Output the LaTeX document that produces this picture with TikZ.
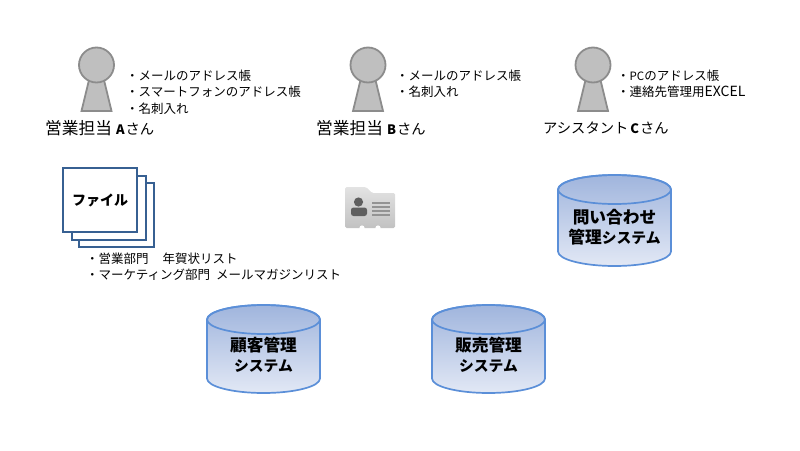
\documentclass[tikz,border=0pt]{standalone}
\usepackage{fontspec}
\setmainfont{Noto Sans CJK JP}
\definecolor{dbblue}{HTML}{5B8FD8}
\definecolor{dbtop}{HTML}{A0B5DD}
\definecolor{dbbottom}{HTML}{E2E8F5}
\definecolor{fileblue}{HTML}{376092}
\definecolor{persongray}{HTML}{BFBFBF}
\definecolor{personline}{HTML}{8C8C8C}
\definecolor{cardgray}{HTML}{5F5F5F}
\newcommand{\bigkanji}[1]{{\fontsize{16.7}{20}\selectfont #1}}
\newcommand{\staffmark}[1]{\hspace{2pt}\textbf{\fontsize{13}{13}\selectfont #1}\hspace{1pt}}
\tikzset{
  namelabel/.style={font=\fontsize{14.3}{18}\selectfont, anchor=west, inner sep=0pt},
  memolabel/.style={font=\fontsize{12.5}{16.5}\selectfont, anchor=north west, align=left, inner sep=0pt},
  filesheet/.style={draw=fileblue, fill=white, line width=1.8pt},
  dbtext/.style={align=center, inner sep=0pt, font=\fontsize{14.8}{20}\selectfont\bfseries},
  person/.pic={
    \draw[fill=persongray, draw=personline, line width=1.8pt]
      (-7.5,15) -- (7.5,15) -- (15,46) -- (-15,46) -- cycle;
    \draw[fill=persongray, draw=personline, line width=1.8pt] (0,0) circle (17.5pt);
  },
  pics/dbcyl/.style={code={
    \path[top color=dbtop, bottom color=dbbottom, draw=dbblue, line width=1.7pt]
      (-56.5,0) -- (-56.5,#1) arc[start angle=180, end angle=360, x radius=56.5pt, y radius=14.5pt]
      -- (56.5,0) arc[start angle=0, end angle=180, x radius=56.5pt, y radius=14.5pt] -- cycle;
    \draw[dbblue, line width=1.7pt] (0,0) ellipse (56.5pt and 14.5pt);
  }}
}
\begin{document}
\begin{tikzpicture}[x=1pt, y=-1pt]
    \useasboundingbox (0,0) rectangle (800,450);
    % staff
    \pic at (96.5,65) {person};
    \pic at (368,65) {person};
    \pic at (593,65) {person};
    \node[namelabel] (nameA) at (45,128) {\bigkanji{営業担当}\hspace{2pt}\staffmark{A}さん};
    \node[namelabel] (nameB) at (316,128) {\bigkanji{営業担当}\hspace{2pt}\staffmark{B}さん};
    \node[namelabel] (nameC) at (543,128) {アシスタント\staffmark{C}さん};
    \node[memolabel] (memoA) at (126,69.5) {・メールのアドレス帳\\・スマートフォンのアドレス帳\\・名刺入れ};
    \node[memolabel] (memoB) at (396,69.5) {・メールのアドレス帳\\・名刺入れ};
    \node[memolabel] (memoC) at (617,69.5) {・{\fontsize{11.5}{11.5}\selectfont PC}のアドレス帳\\・連絡先管理用{\fontsize{14}{14}\selectfont EXCEL}};
    % file stack
    \draw[filesheet] (79,183) rectangle (154,247);
    \draw[filesheet] (72,176) rectangle (146,240);
    \draw[filesheet] (63,168) rectangle (137,232);
    \node[font=\fontsize{14}{16}\selectfont\bfseries] (fileA) at (100,200) {ファイル};
    \node[memolabel] (memoFile) at (86,252.5) {・営業部門\hspace{14pt}年賀状リスト\\・マーケティング部門\hspace{6pt}メールマガジンリスト};
    % contact card icon
    \shade[top color=gray!22, bottom color=gray!48, rounded corners=1.5pt]
      (345,187) -- (366,187) -- (372,193) -- (395,193) -- (395,228) -- (345,228) -- cycle;
    \fill[white] (362,228) circle (2.6pt) (378,228) circle (2.6pt);
    \fill[cardgray] (358.5,202) circle (4.6pt);
    \fill[cardgray, rounded corners=2.5pt] (351,216) -- (351,207.5) -- (367,207.5) -- (367,216) -- cycle;
    \foreach \yline in {203,207,211,215} {
      \draw[gray!85, line width=1.7pt] (372,\yline) -- (390,\yline);
    }
    % systems
    \pic at (614.5,189.5) {dbcyl=62};
    \pic at (263.5,319.5) {dbcyl=59};
    \pic at (488.5,319.5) {dbcyl=59};
    \node[dbtext] (dbInquiry) at (614.5,227) {\bigkanji{問い合わせ}\\\bigkanji{管理}システム};
    \node[dbtext] (dbCustomer) at (263.5,355) {\bigkanji{顧客管理}\\システム};
    \node[dbtext] (dbSales) at (488.5,355) {\bigkanji{販売管理}\\システム};
\end{tikzpicture}
\end{document}
